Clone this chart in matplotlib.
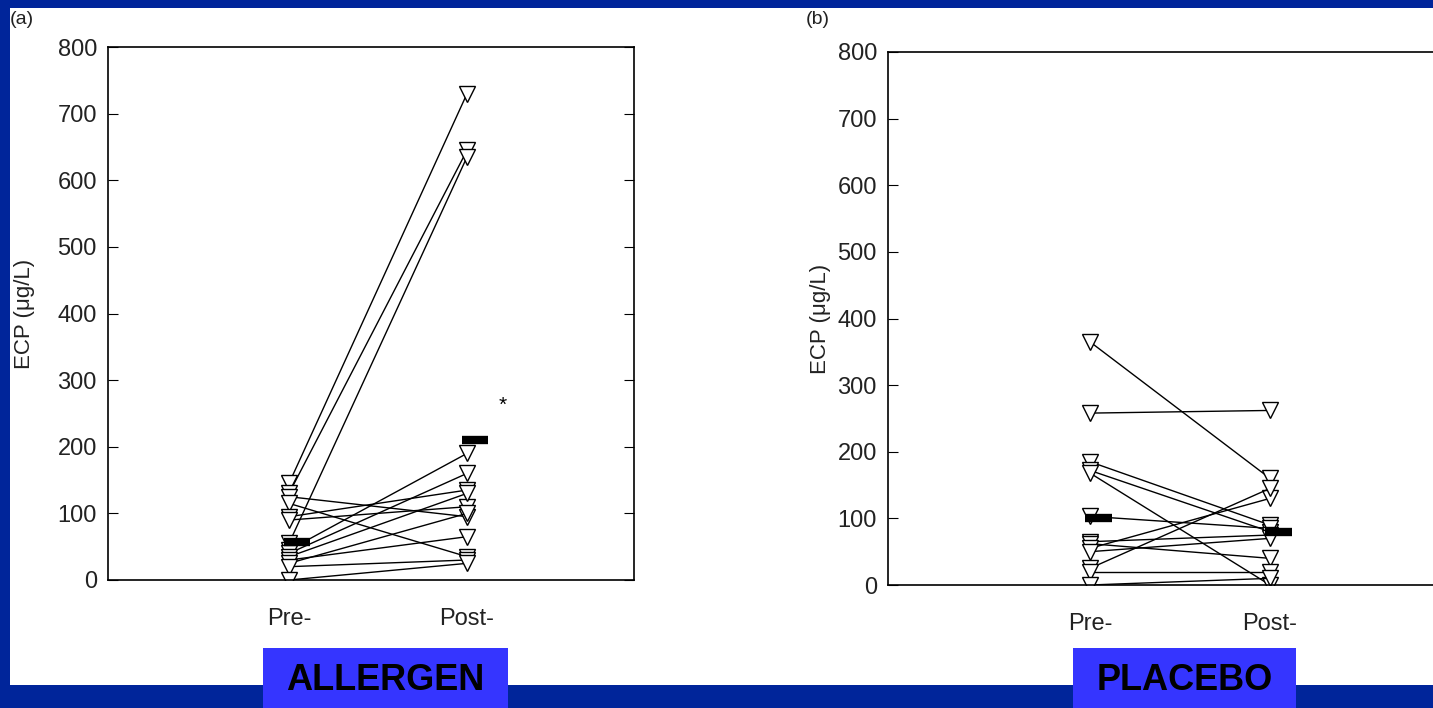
import matplotlib
matplotlib.use("Agg")
import matplotlib.pyplot as plt
from matplotlib.patches import Rectangle

plt.rcParams['font.family'] = ['Liberation Sans', 'DejaVu Sans']

# (a) allergen: paired ECP values, pre vs post
allergen_pre = [145, 130, 55, 125, 115, 95, 90, 45, 40, 35, 30, 25, 20, 0]
allergen_post = [730, 645, 635, 95, 35, 135, 110, 190, 160, 130, 65, 100, 30, 25]
allergen_bar = [57, 210]

# (b) placebo
placebo_pre = [365, 258, 185, 172, 168, 103, 65, 62, 55, 50, 25, 20, 0]
placebo_post = [160, 262, 90, 80, 0, 85, 75, 40, 130, 70, 145, 20, 10]
placebo_bar = [100, 80]

time_labels = ["Pre-", "Post-"]
y_ticks = list(range(0, 801, 100))

navy = '#00259a'
box_blue = '#3535ff'

fig = plt.figure(figsize=(14.33, 7.08), dpi=100, facecolor=navy)
# white page area, kept behind the axes
fig.patches.append(Rectangle((10 / 1433, 1 - 685 / 708), 1, (685 - 8) / 708,
                             transform=fig.transFigure, facecolor='white',
                             edgecolor='none', zorder=-5))

def draw_panel(ax, pre, post, bars, xlim, star=False):
    xs = [1, 2]
    for a, b in zip(pre, post):
        ax.plot(xs, [a, b], color='black', lw=1.0, zorder=2,
                marker='v', ms=11.5, mfc='white', mec='black', mew=1.0)
    for x, v in zip(xs, bars):
        ax.plot([x - 0.03, x + 0.12], [v, v], color='black', lw=6,
                solid_capstyle='butt', zorder=4)
    if star:
        ax.text(2.2, 262, '*', fontsize=15, ha='center', va='center')
    ax.set_xlim(*xlim)
    ax.set_ylim(0, 800)
    ax.set_yticks(y_ticks)
    ax.set_xticks(xs)
    ax.set_xticklabels(time_labels, fontsize=17, color='#222222')
    ax.tick_params(axis='x', length=0, pad=20)
    ax.tick_params(axis='y', direction='in', length=7, right=True,
                   labelsize=17, pad=8, labelcolor='#222222')
    ax.set_ylabel('ECP (\u03bcg/L)', fontsize=16, color='#222222')
    for s in ax.spines.values():
        s.set_linewidth(1.2)
    ax.set_facecolor('white')
    ax.set_zorder(2)

ax1 = fig.add_axes([108 / 1433, 1 - 580 / 708, 526 / 1433, 533 / 708])
draw_panel(ax1, allergen_pre, allergen_post, allergen_bar, (-0.017, 2.938), star=True)
ax1.yaxis.set_label_coords(-0.138, 0.5)

ax2 = fig.add_axes([888 / 1433, 1 - 585 / 708, 562 / 1433, 533 / 708])
draw_panel(ax2, placebo_pre, placebo_post, placebo_bar, (-0.122, 3.0))
ax2.yaxis.set_label_coords(-0.102, 0.5)

fig.text(10 / 1433, 1 - 19 / 708, '(a)', fontsize=14, va='center', ha='left', color='#222222')
fig.text(806 / 1433, 1 - 19 / 708, '(b)', fontsize=14, va='center', ha='left', color='#222222')

# group label boxes at the bottom
for x0, x1, label in [(263, 508, 'ALLERGEN'), (1073, 1296, 'PLACEBO')]:
    fig.patches.append(Rectangle((x0 / 1433, 0), (x1 - x0) / 1433, 60 / 708,
                                 transform=fig.transFigure, facecolor=box_blue,
                                 edgecolor='none', zorder=1))
    fig.text((x0 + x1) / 2 / 1433, 1 - 681 / 708, label, fontsize=26,
             fontweight='bold', ha='center', va='center', color='black')

fig.savefig('out.png', dpi=100, facecolor=navy)
